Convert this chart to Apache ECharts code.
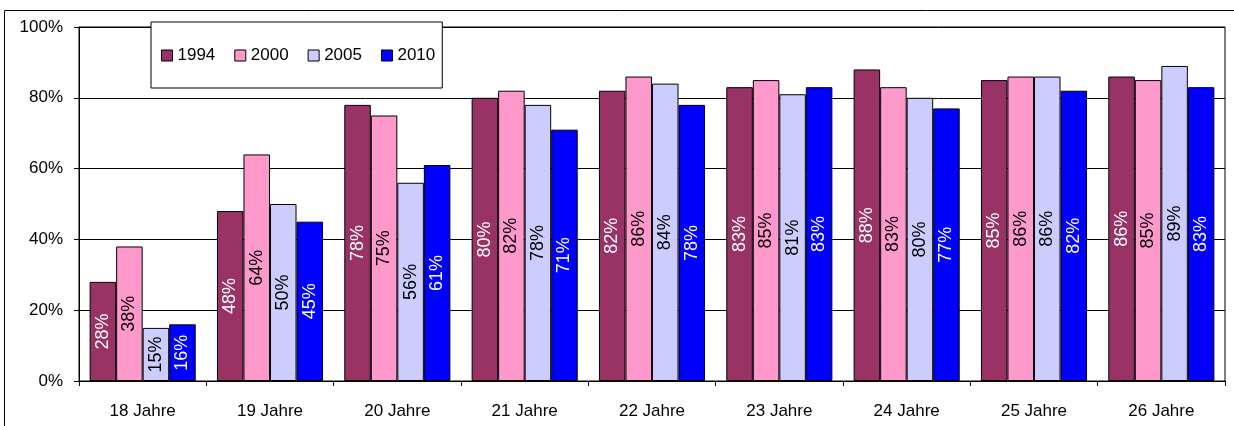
<!DOCTYPE html>
<html>
<head>
<meta charset="utf-8">
<script src="https://cdn.jsdelivr.net/npm/echarts@6/dist/echarts.min.js"></script>
<style>
  html, body { margin: 0; padding: 0; background: #fff; }
  #chart { width: 1234px; height: 426px; }
</style>
</head>
<body>
<div id="chart"></div>
<script>
// Age groups on the x axis
const categories = ['18 Jahre', '19 Jahre', '20 Jahre', '21 Jahre', '22 Jahre', '23 Jahre', '24 Jahre', '25 Jahre', '26 Jahre'];

// Shares (in %) per survey year
const years = ['1994', '2000', '2005', '2010'];
const values1994 = [28, 48, 78, 80, 82, 83, 88, 85, 86];
const values2000 = [38, 64, 75, 82, 86, 85, 83, 86, 85];
const values2005 = [15, 50, 56, 78, 84, 81, 80, 86, 89];
const values2010 = [16, 45, 61, 71, 78, 83, 77, 82, 83];

const FONT = '"Liberation Sans", Arial, sans-serif';
const seriesData = [values1994, values2000, values2005, values2010];
const fills = ['#993366', '#FF99CC', '#CCCCFF', '#0000FF'];
const labelColors = ['#ffffff', '#000000', '#000000', '#ffffff'];

const chart = echarts.init(document.getElementById('chart'), null, { renderer: 'canvas' });

chart.setOption({
  animation: false,
  backgroundColor: '#ffffff',
  textStyle: { fontFamily: FONT },
  // outer frame: top and left edges (the others run past the canvas)
  graphic: [
    {
      type: 'line',
      shape: { x1: 4.5, y1: 10.5, x2: 1234, y2: 10.5 },
      style: { stroke: '#000', lineWidth: 1 },
      silent: true
    },
    {
      type: 'line',
      shape: { x1: 4.5, y1: 10.5, x2: 4.5, y2: 426 },
      style: { stroke: '#000', lineWidth: 1 },
      silent: true
    }
  ],
  grid: {
    left: 79, right: 9, top: 27, bottom: 45,
    show: true,
    borderColor: '#000',
    borderWidth: 1,
    backgroundColor: 'transparent'
  },
  legend: {
    data: years,
    left: 151,
    top: 22,
    orient: 'horizontal',
    backgroundColor: '#ffffff',
    borderColor: '#000',
    borderWidth: 1,
    padding: [25, 7, 24, 10],
    itemGap: 19,
    itemWidth: 11,
    itemHeight: 11,
    icon: 'rect',
    itemStyle: { borderColor: '#000', borderWidth: 1 },
    textStyle: { fontFamily: FONT, fontSize: 17, color: '#000' },
    z: 10
  },
  xAxis: {
    type: 'category',
    data: categories,
    axisLine: { lineStyle: { color: '#000', width: 1 } },
    axisTick: { show: true, length: 5, lineStyle: { color: '#000' } },
    axisLabel: { fontFamily: FONT, fontSize: 17, color: '#000', margin: 22 },
    splitLine: { show: false }
  },
  yAxis: {
    type: 'value',
    min: 0, max: 100, interval: 20,
    axisLine: { show: true, lineStyle: { color: '#000', width: 1 } },
    axisTick: { show: true, length: 5, lineStyle: { color: '#000' } },
    axisLabel: { fontFamily: FONT, fontSize: 17, color: '#000', margin: 16, formatter: '{value}%' },
    splitLine: { show: true, lineStyle: { color: '#000', width: 1 } }
  },
  series: years.map((name, i) => ({
    name: name,
    type: 'bar',
    data: seriesData[i],
    barGap: '0%',
    barCategoryGap: '16.7%',
    itemStyle: { color: fills[i], borderColor: '#000', borderWidth: 1 },
    label: {
      show: true,
      position: 'inside',
      rotate: 90,
      formatter: '{c}%',
      fontFamily: FONT,
      fontSize: 18,
      color: labelColors[i],
      textBorderWidth: 0
    }
  }))
});
</script>
</body>
</html>
